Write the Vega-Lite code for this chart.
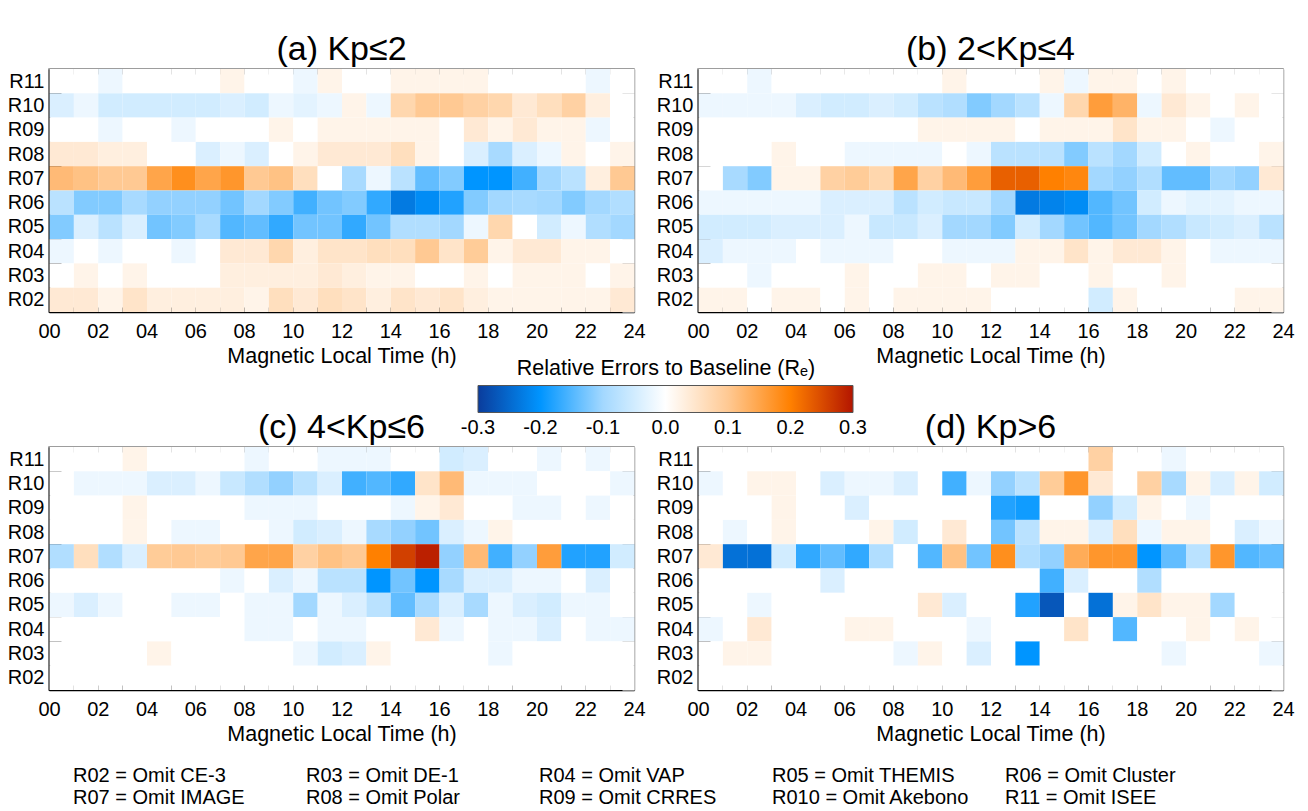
{
"$schema":"https://vega.github.io/schema/vega-lite/v6.json",
"background":"white",
"padding":{"left":6,"top":32,"right":0,"bottom":0},
"config":{"font":"Liberation Sans","view":{"stroke":"#888888","strokeWidth":1.5},"title":{"fontSize":34,"fontWeight":"normal","offset":-8,"frame":"group","anchor":"middle","color":"#000000"},"axis":{"labelFontSize":20,"titleFontSize":21.5,"titleFontWeight":"normal","labelColor":"#000000","titleColor":"#000000","grid":false,"zindex":1}},
"datasets":{
"a":[
{"r":"R11","t":0,"v":0},{"r":"R11","t":1,"v":0},{"r":"R11","t":2,"v":-0.02},{"r":"R11","t":3,"v":0},{"r":"R11","t":4,"v":0},{"r":"R11","t":5,"v":0},{"r":"R11","t":6,"v":0},{"r":"R11","t":7,"v":0.02},{"r":"R11","t":8,"v":0},{"r":"R11","t":9,"v":0},{"r":"R11","t":10,"v":-0.02},{"r":"R11","t":11,"v":0.02},{"r":"R11","t":12,"v":0},{"r":"R11","t":13,"v":0},{"r":"R11","t":14,"v":0.02},{"r":"R11","t":15,"v":0.02},{"r":"R11","t":16,"v":0.02},{"r":"R11","t":17,"v":0.02},{"r":"R11","t":18,"v":0},{"r":"R11","t":19,"v":0},{"r":"R11","t":20,"v":0},{"r":"R11","t":21,"v":0},{"r":"R11","t":22,"v":-0.02},{"r":"R11","t":23,"v":0},
{"r":"R10","t":0,"v":-0.04},{"r":"R10","t":1,"v":-0.02},{"r":"R10","t":2,"v":-0.05},{"r":"R10","t":3,"v":-0.05},{"r":"R10","t":4,"v":-0.05},{"r":"R10","t":5,"v":-0.05},{"r":"R10","t":6,"v":-0.05},{"r":"R10","t":7,"v":-0.04},{"r":"R10","t":8,"v":-0.05},{"r":"R10","t":9,"v":-0.02},{"r":"R10","t":10,"v":-0.03},{"r":"R10","t":11,"v":-0.02},{"r":"R10","t":12,"v":0.02},{"r":"R10","t":13,"v":-0.02},{"r":"R10","t":14,"v":0.075},{"r":"R10","t":15,"v":0.1},{"r":"R10","t":16,"v":0.1},{"r":"R10","t":17,"v":0.085},{"r":"R10","t":18,"v":0.075},{"r":"R10","t":19,"v":0.04},{"r":"R10","t":20,"v":0.06},{"r":"R10","t":21,"v":0.085},{"r":"R10","t":22,"v":0.03},{"r":"R10","t":23,"v":0},
{"r":"R09","t":0,"v":0},{"r":"R09","t":1,"v":0},{"r":"R09","t":2,"v":-0.02},{"r":"R09","t":3,"v":0},{"r":"R09","t":4,"v":0},{"r":"R09","t":5,"v":-0.02},{"r":"R09","t":6,"v":0},{"r":"R09","t":7,"v":0},{"r":"R09","t":8,"v":0},{"r":"R09","t":9,"v":0.02},{"r":"R09","t":10,"v":0},{"r":"R09","t":11,"v":0.02},{"r":"R09","t":12,"v":0.02},{"r":"R09","t":13,"v":0.02},{"r":"R09","t":14,"v":0.02},{"r":"R09","t":15,"v":0.02},{"r":"R09","t":16,"v":0},{"r":"R09","t":17,"v":0.04},{"r":"R09","t":18,"v":0.02},{"r":"R09","t":19,"v":0.04},{"r":"R09","t":20,"v":0.02},{"r":"R09","t":21,"v":0.02},{"r":"R09","t":22,"v":-0.02},{"r":"R09","t":23,"v":0},
{"r":"R08","t":0,"v":0.04},{"r":"R08","t":1,"v":0.04},{"r":"R08","t":2,"v":0.03},{"r":"R08","t":3,"v":0.03},{"r":"R08","t":4,"v":0},{"r":"R08","t":5,"v":0},{"r":"R08","t":6,"v":-0.04},{"r":"R08","t":7,"v":-0.02},{"r":"R08","t":8,"v":-0.04},{"r":"R08","t":9,"v":0},{"r":"R08","t":10,"v":0.02},{"r":"R08","t":11,"v":0.04},{"r":"R08","t":12,"v":0.04},{"r":"R08","t":13,"v":0.04},{"r":"R08","t":14,"v":0.06},{"r":"R08","t":15,"v":0.02},{"r":"R08","t":16,"v":0},{"r":"R08","t":17,"v":-0.04},{"r":"R08","t":18,"v":-0.095},{"r":"R08","t":19,"v":-0.04},{"r":"R08","t":20,"v":-0.02},{"r":"R08","t":21,"v":0.02},{"r":"R08","t":22,"v":0},{"r":"R08","t":23,"v":0.02},
{"r":"R07","t":0,"v":0.12},{"r":"R07","t":1,"v":0.11},{"r":"R07","t":2,"v":0.1},{"r":"R07","t":3,"v":0.1},{"r":"R07","t":4,"v":0.15},{"r":"R07","t":5,"v":0.18},{"r":"R07","t":6,"v":0.15},{"r":"R07","t":7,"v":0.17},{"r":"R07","t":8,"v":0.1},{"r":"R07","t":9,"v":0.11},{"r":"R07","t":10,"v":0.06},{"r":"R07","t":11,"v":0},{"r":"R07","t":12,"v":-0.095},{"r":"R07","t":13,"v":-0.02},{"r":"R07","t":14,"v":-0.075},{"r":"R07","t":15,"v":-0.14},{"r":"R07","t":16,"v":-0.12},{"r":"R07","t":17,"v":-0.2},{"r":"R07","t":18,"v":-0.2},{"r":"R07","t":19,"v":-0.16},{"r":"R07","t":20,"v":-0.1},{"r":"R07","t":21,"v":-0.075},{"r":"R07","t":22,"v":0.03},{"r":"R07","t":23,"v":0.1},
{"r":"R06","t":0,"v":-0.075},{"r":"R06","t":1,"v":-0.12},{"r":"R06","t":2,"v":-0.12},{"r":"R06","t":3,"v":-0.095},{"r":"R06","t":4,"v":-0.11},{"r":"R06","t":5,"v":-0.11},{"r":"R06","t":6,"v":-0.11},{"r":"R06","t":7,"v":-0.13},{"r":"R06","t":8,"v":-0.1},{"r":"R06","t":9,"v":-0.12},{"r":"R06","t":10,"v":-0.16},{"r":"R06","t":11,"v":-0.13},{"r":"R06","t":12,"v":-0.12},{"r":"R06","t":13,"v":-0.17},{"r":"R06","t":14,"v":-0.23},{"r":"R06","t":15,"v":-0.21},{"r":"R06","t":16,"v":-0.18},{"r":"R06","t":17,"v":-0.12},{"r":"R06","t":18,"v":-0.1},{"r":"R06","t":19,"v":-0.095},{"r":"R06","t":20,"v":-0.1},{"r":"R06","t":21,"v":-0.12},{"r":"R06","t":22,"v":-0.1},{"r":"R06","t":23,"v":-0.085},
{"r":"R05","t":0,"v":-0.12},{"r":"R05","t":1,"v":-0.04},{"r":"R05","t":2,"v":-0.075},{"r":"R05","t":3,"v":-0.04},{"r":"R05","t":4,"v":-0.13},{"r":"R05","t":5,"v":-0.12},{"r":"R05","t":6,"v":-0.095},{"r":"R05","t":7,"v":-0.15},{"r":"R05","t":8,"v":-0.14},{"r":"R05","t":9,"v":-0.17},{"r":"R05","t":10,"v":-0.13},{"r":"R05","t":11,"v":-0.13},{"r":"R05","t":12,"v":-0.17},{"r":"R05","t":13,"v":-0.13},{"r":"R05","t":14,"v":-0.085},{"r":"R05","t":15,"v":-0.085},{"r":"R05","t":16,"v":-0.1},{"r":"R05","t":17,"v":-0.02},{"r":"R05","t":18,"v":0.075},{"r":"R05","t":19,"v":0},{"r":"R05","t":20,"v":-0.05},{"r":"R05","t":21,"v":-0.02},{"r":"R05","t":22,"v":-0.085},{"r":"R05","t":23,"v":-0.1},
{"r":"R04","t":0,"v":-0.02},{"r":"R04","t":1,"v":0},{"r":"R04","t":2,"v":-0.02},{"r":"R04","t":3,"v":0},{"r":"R04","t":4,"v":0},{"r":"R04","t":5,"v":-0.02},{"r":"R04","t":6,"v":0},{"r":"R04","t":7,"v":0.04},{"r":"R04","t":8,"v":0.04},{"r":"R04","t":9,"v":0.075},{"r":"R04","t":10,"v":0.03},{"r":"R04","t":11,"v":0.05},{"r":"R04","t":12,"v":0.05},{"r":"R04","t":13,"v":0.06},{"r":"R04","t":14,"v":0.06},{"r":"R04","t":15,"v":0.1},{"r":"R04","t":16,"v":0.05},{"r":"R04","t":17,"v":0.095},{"r":"R04","t":18,"v":0.02},{"r":"R04","t":19,"v":0.04},{"r":"R04","t":20,"v":0.04},{"r":"R04","t":21,"v":0.02},{"r":"R04","t":22,"v":0.02},{"r":"R04","t":23,"v":0},
{"r":"R03","t":0,"v":0},{"r":"R03","t":1,"v":0.02},{"r":"R03","t":2,"v":0},{"r":"R03","t":3,"v":0.02},{"r":"R03","t":4,"v":0},{"r":"R03","t":5,"v":0},{"r":"R03","t":6,"v":0},{"r":"R03","t":7,"v":0.03},{"r":"R03","t":8,"v":0.03},{"r":"R03","t":9,"v":0.03},{"r":"R03","t":10,"v":0.03},{"r":"R03","t":11,"v":0.04},{"r":"R03","t":12,"v":0.03},{"r":"R03","t":13,"v":0.02},{"r":"R03","t":14,"v":0.02},{"r":"R03","t":15,"v":0},{"r":"R03","t":16,"v":0},{"r":"R03","t":17,"v":0.02},{"r":"R03","t":18,"v":0},{"r":"R03","t":19,"v":0.02},{"r":"R03","t":20,"v":0.02},{"r":"R03","t":21,"v":0.02},{"r":"R03","t":22,"v":0},{"r":"R03","t":23,"v":0.02},
{"r":"R02","t":0,"v":0.04},{"r":"R02","t":1,"v":0.04},{"r":"R02","t":2,"v":0.02},{"r":"R02","t":3,"v":0.05},{"r":"R02","t":4,"v":0.03},{"r":"R02","t":5,"v":0.03},{"r":"R02","t":6,"v":0.03},{"r":"R02","t":7,"v":0.03},{"r":"R02","t":8,"v":0.02},{"r":"R02","t":9,"v":0.06},{"r":"R02","t":10,"v":0.04},{"r":"R02","t":11,"v":0.06},{"r":"R02","t":12,"v":0.05},{"r":"R02","t":13,"v":0.03},{"r":"R02","t":14,"v":0.05},{"r":"R02","t":15,"v":0.04},{"r":"R02","t":16,"v":0.05},{"r":"R02","t":17,"v":0.03},{"r":"R02","t":18,"v":0.02},{"r":"R02","t":19,"v":0.02},{"r":"R02","t":20,"v":0.02},{"r":"R02","t":21,"v":0.02},{"r":"R02","t":22,"v":0.02},{"r":"R02","t":23,"v":0.04}
],
"b":[
{"r":"R11","t":0,"v":0},{"r":"R11","t":1,"v":0},{"r":"R11","t":2,"v":-0.02},{"r":"R11","t":3,"v":0},{"r":"R11","t":4,"v":0},{"r":"R11","t":5,"v":0},{"r":"R11","t":6,"v":0},{"r":"R11","t":7,"v":0},{"r":"R11","t":8,"v":0},{"r":"R11","t":9,"v":0},{"r":"R11","t":10,"v":0.02},{"r":"R11","t":11,"v":0},{"r":"R11","t":12,"v":0},{"r":"R11","t":13,"v":0},{"r":"R11","t":14,"v":0.02},{"r":"R11","t":15,"v":-0.02},{"r":"R11","t":16,"v":0.02},{"r":"R11","t":17,"v":0.02},{"r":"R11","t":18,"v":0},{"r":"R11","t":19,"v":0.02},{"r":"R11","t":20,"v":0},{"r":"R11","t":21,"v":0},{"r":"R11","t":22,"v":0},{"r":"R11","t":23,"v":0},
{"r":"R10","t":0,"v":-0.02},{"r":"R10","t":1,"v":-0.02},{"r":"R10","t":2,"v":-0.02},{"r":"R10","t":3,"v":-0.02},{"r":"R10","t":4,"v":-0.04},{"r":"R10","t":5,"v":-0.05},{"r":"R10","t":6,"v":-0.05},{"r":"R10","t":7,"v":-0.04},{"r":"R10","t":8,"v":-0.05},{"r":"R10","t":9,"v":-0.075},{"r":"R10","t":10,"v":-0.085},{"r":"R10","t":11,"v":-0.12},{"r":"R10","t":12,"v":-0.1},{"r":"R10","t":13,"v":-0.075},{"r":"R10","t":14,"v":-0.02},{"r":"R10","t":15,"v":0.075},{"r":"R10","t":16,"v":0.16},{"r":"R10","t":17,"v":0.13},{"r":"R10","t":18,"v":-0.02},{"r":"R10","t":19,"v":0.04},{"r":"R10","t":20,"v":0.02},{"r":"R10","t":21,"v":0},{"r":"R10","t":22,"v":0.02},{"r":"R10","t":23,"v":0},
{"r":"R09","t":0,"v":0},{"r":"R09","t":1,"v":0},{"r":"R09","t":2,"v":0},{"r":"R09","t":3,"v":0},{"r":"R09","t":4,"v":0},{"r":"R09","t":5,"v":0},{"r":"R09","t":6,"v":0},{"r":"R09","t":7,"v":0},{"r":"R09","t":8,"v":0},{"r":"R09","t":9,"v":0.02},{"r":"R09","t":10,"v":0.02},{"r":"R09","t":11,"v":0.02},{"r":"R09","t":12,"v":0.02},{"r":"R09","t":13,"v":0},{"r":"R09","t":14,"v":0.02},{"r":"R09","t":15,"v":0.02},{"r":"R09","t":16,"v":0.02},{"r":"R09","t":17,"v":0.05},{"r":"R09","t":18,"v":0.02},{"r":"R09","t":19,"v":0.02},{"r":"R09","t":20,"v":0},{"r":"R09","t":21,"v":-0.02},{"r":"R09","t":22,"v":0},{"r":"R09","t":23,"v":0},
{"r":"R08","t":0,"v":0},{"r":"R08","t":1,"v":0},{"r":"R08","t":2,"v":0},{"r":"R08","t":3,"v":0.02},{"r":"R08","t":4,"v":0},{"r":"R08","t":5,"v":0},{"r":"R08","t":6,"v":-0.02},{"r":"R08","t":7,"v":-0.02},{"r":"R08","t":8,"v":-0.02},{"r":"R08","t":9,"v":-0.02},{"r":"R08","t":10,"v":0},{"r":"R08","t":11,"v":-0.02},{"r":"R08","t":12,"v":-0.075},{"r":"R08","t":13,"v":-0.075},{"r":"R08","t":14,"v":-0.075},{"r":"R08","t":15,"v":-0.12},{"r":"R08","t":16,"v":-0.075},{"r":"R08","t":17,"v":-0.1},{"r":"R08","t":18,"v":-0.05},{"r":"R08","t":19,"v":0},{"r":"R08","t":20,"v":0.02},{"r":"R08","t":21,"v":0},{"r":"R08","t":22,"v":0},{"r":"R08","t":23,"v":0.02},
{"r":"R07","t":0,"v":0},{"r":"R07","t":1,"v":-0.095},{"r":"R07","t":2,"v":-0.12},{"r":"R07","t":3,"v":0.02},{"r":"R07","t":4,"v":0.02},{"r":"R07","t":5,"v":0.085},{"r":"R07","t":6,"v":0.095},{"r":"R07","t":7,"v":0.075},{"r":"R07","t":8,"v":0.15},{"r":"R07","t":9,"v":0.085},{"r":"R07","t":10,"v":0.12},{"r":"R07","t":11,"v":0.16},{"r":"R07","t":12,"v":0.23},{"r":"R07","t":13,"v":0.23},{"r":"R07","t":14,"v":0.2},{"r":"R07","t":15,"v":0.19},{"r":"R07","t":16,"v":-0.1},{"r":"R07","t":17,"v":-0.11},{"r":"R07","t":18,"v":-0.085},{"r":"R07","t":19,"v":-0.14},{"r":"R07","t":20,"v":-0.14},{"r":"R07","t":21,"v":-0.1},{"r":"R07","t":22,"v":-0.11},{"r":"R07","t":23,"v":0.04},
{"r":"R06","t":0,"v":-0.02},{"r":"R06","t":1,"v":-0.02},{"r":"R06","t":2,"v":-0.02},{"r":"R06","t":3,"v":-0.02},{"r":"R06","t":4,"v":-0.02},{"r":"R06","t":5,"v":-0.04},{"r":"R06","t":6,"v":-0.04},{"r":"R06","t":7,"v":-0.04},{"r":"R06","t":8,"v":-0.075},{"r":"R06","t":9,"v":-0.05},{"r":"R06","t":10,"v":-0.06},{"r":"R06","t":11,"v":-0.06},{"r":"R06","t":12,"v":-0.1},{"r":"R06","t":13,"v":-0.23},{"r":"R06","t":14,"v":-0.22},{"r":"R06","t":15,"v":-0.21},{"r":"R06","t":16,"v":-0.15},{"r":"R06","t":17,"v":-0.13},{"r":"R06","t":18,"v":-0.05},{"r":"R06","t":19,"v":-0.02},{"r":"R06","t":20,"v":-0.03},{"r":"R06","t":21,"v":-0.03},{"r":"R06","t":22,"v":-0.02},{"r":"R06","t":23,"v":-0.02},
{"r":"R05","t":0,"v":-0.05},{"r":"R05","t":1,"v":-0.05},{"r":"R05","t":2,"v":-0.05},{"r":"R05","t":3,"v":-0.04},{"r":"R05","t":4,"v":-0.04},{"r":"R05","t":5,"v":-0.04},{"r":"R05","t":6,"v":-0.02},{"r":"R05","t":7,"v":-0.06},{"r":"R05","t":8,"v":-0.06},{"r":"R05","t":9,"v":-0.04},{"r":"R05","t":10,"v":-0.1},{"r":"R05","t":11,"v":-0.1},{"r":"R05","t":12,"v":-0.12},{"r":"R05","t":13,"v":-0.05},{"r":"R05","t":14,"v":-0.1},{"r":"R05","t":15,"v":-0.13},{"r":"R05","t":16,"v":-0.15},{"r":"R05","t":17,"v":-0.13},{"r":"R05","t":18,"v":-0.1},{"r":"R05","t":19,"v":-0.085},{"r":"R05","t":20,"v":-0.06},{"r":"R05","t":21,"v":-0.05},{"r":"R05","t":22,"v":-0.04},{"r":"R05","t":23,"v":-0.075},
{"r":"R04","t":0,"v":-0.04},{"r":"R04","t":1,"v":-0.02},{"r":"R04","t":2,"v":-0.02},{"r":"R04","t":3,"v":-0.02},{"r":"R04","t":4,"v":0},{"r":"R04","t":5,"v":-0.02},{"r":"R04","t":6,"v":-0.02},{"r":"R04","t":7,"v":-0.02},{"r":"R04","t":8,"v":0},{"r":"R04","t":9,"v":0},{"r":"R04","t":10,"v":-0.02},{"r":"R04","t":11,"v":-0.02},{"r":"R04","t":12,"v":-0.02},{"r":"R04","t":13,"v":0.02},{"r":"R04","t":14,"v":0.02},{"r":"R04","t":15,"v":0.05},{"r":"R04","t":16,"v":0.02},{"r":"R04","t":17,"v":0.04},{"r":"R04","t":18,"v":0.04},{"r":"R04","t":19,"v":0.02},{"r":"R04","t":20,"v":0},{"r":"R04","t":21,"v":-0.02},{"r":"R04","t":22,"v":-0.02},{"r":"R04","t":23,"v":-0.02},
{"r":"R03","t":0,"v":0},{"r":"R03","t":1,"v":0},{"r":"R03","t":2,"v":-0.02},{"r":"R03","t":3,"v":0},{"r":"R03","t":4,"v":0},{"r":"R03","t":5,"v":0},{"r":"R03","t":6,"v":0.02},{"r":"R03","t":7,"v":0},{"r":"R03","t":8,"v":0},{"r":"R03","t":9,"v":0.02},{"r":"R03","t":10,"v":0.02},{"r":"R03","t":11,"v":0},{"r":"R03","t":12,"v":0.02},{"r":"R03","t":13,"v":0.02},{"r":"R03","t":14,"v":0},{"r":"R03","t":15,"v":0},{"r":"R03","t":16,"v":0.02},{"r":"R03","t":17,"v":0},{"r":"R03","t":18,"v":0},{"r":"R03","t":19,"v":0.02},{"r":"R03","t":20,"v":0},{"r":"R03","t":21,"v":0},{"r":"R03","t":22,"v":0},{"r":"R03","t":23,"v":0},
{"r":"R02","t":0,"v":0.02},{"r":"R02","t":1,"v":0.02},{"r":"R02","t":2,"v":0},{"r":"R02","t":3,"v":0.02},{"r":"R02","t":4,"v":0.02},{"r":"R02","t":5,"v":0},{"r":"R02","t":6,"v":0.02},{"r":"R02","t":7,"v":0},{"r":"R02","t":8,"v":0.02},{"r":"R02","t":9,"v":0.02},{"r":"R02","t":10,"v":0.02},{"r":"R02","t":11,"v":0.02},{"r":"R02","t":12,"v":0},{"r":"R02","t":13,"v":0},{"r":"R02","t":14,"v":0},{"r":"R02","t":15,"v":0},{"r":"R02","t":16,"v":-0.05},{"r":"R02","t":17,"v":0.02},{"r":"R02","t":18,"v":0},{"r":"R02","t":19,"v":0},{"r":"R02","t":20,"v":0},{"r":"R02","t":21,"v":0},{"r":"R02","t":22,"v":0.02},{"r":"R02","t":23,"v":0.02}
],
"c":[
{"r":"R11","t":0,"v":0},{"r":"R11","t":1,"v":0},{"r":"R11","t":2,"v":0},{"r":"R11","t":3,"v":0.02},{"r":"R11","t":4,"v":0},{"r":"R11","t":5,"v":0},{"r":"R11","t":6,"v":0},{"r":"R11","t":7,"v":0},{"r":"R11","t":8,"v":-0.02},{"r":"R11","t":9,"v":0},{"r":"R11","t":10,"v":0},{"r":"R11","t":11,"v":-0.02},{"r":"R11","t":12,"v":-0.02},{"r":"R11","t":13,"v":-0.02},{"r":"R11","t":14,"v":0},{"r":"R11","t":15,"v":0},{"r":"R11","t":16,"v":-0.05},{"r":"R11","t":17,"v":-0.04},{"r":"R11","t":18,"v":0},{"r":"R11","t":19,"v":0},{"r":"R11","t":20,"v":-0.02},{"r":"R11","t":21,"v":0},{"r":"R11","t":22,"v":-0.02},{"r":"R11","t":23,"v":0},
{"r":"R10","t":0,"v":0},{"r":"R10","t":1,"v":-0.02},{"r":"R10","t":2,"v":-0.02},{"r":"R10","t":3,"v":-0.02},{"r":"R10","t":4,"v":-0.04},{"r":"R10","t":5,"v":-0.04},{"r":"R10","t":6,"v":-0.02},{"r":"R10","t":7,"v":-0.06},{"r":"R10","t":8,"v":-0.085},{"r":"R10","t":9,"v":-0.11},{"r":"R10","t":10,"v":-0.075},{"r":"R10","t":11,"v":-0.04},{"r":"R10","t":12,"v":-0.16},{"r":"R10","t":13,"v":-0.15},{"r":"R10","t":14,"v":-0.17},{"r":"R10","t":15,"v":0.05},{"r":"R10","t":16,"v":0.12},{"r":"R10","t":17,"v":-0.02},{"r":"R10","t":18,"v":-0.02},{"r":"R10","t":19,"v":-0.02},{"r":"R10","t":20,"v":0},{"r":"R10","t":21,"v":0},{"r":"R10","t":22,"v":0},{"r":"R10","t":23,"v":-0.02},
{"r":"R09","t":0,"v":0},{"r":"R09","t":1,"v":0},{"r":"R09","t":2,"v":0},{"r":"R09","t":3,"v":0.02},{"r":"R09","t":4,"v":0},{"r":"R09","t":5,"v":0},{"r":"R09","t":6,"v":0},{"r":"R09","t":7,"v":0},{"r":"R09","t":8,"v":-0.02},{"r":"R09","t":9,"v":-0.02},{"r":"R09","t":10,"v":-0.02},{"r":"R09","t":11,"v":0},{"r":"R09","t":12,"v":0},{"r":"R09","t":13,"v":0},{"r":"R09","t":14,"v":-0.02},{"r":"R09","t":15,"v":0.02},{"r":"R09","t":16,"v":0.04},{"r":"R09","t":17,"v":0},{"r":"R09","t":18,"v":0},{"r":"R09","t":19,"v":-0.02},{"r":"R09","t":20,"v":-0.02},{"r":"R09","t":21,"v":0},{"r":"R09","t":22,"v":-0.02},{"r":"R09","t":23,"v":0},
{"r":"R08","t":0,"v":0},{"r":"R08","t":1,"v":0},{"r":"R08","t":2,"v":0},{"r":"R08","t":3,"v":0.02},{"r":"R08","t":4,"v":0},{"r":"R08","t":5,"v":-0.02},{"r":"R08","t":6,"v":-0.02},{"r":"R08","t":7,"v":0},{"r":"R08","t":8,"v":0},{"r":"R08","t":9,"v":-0.02},{"r":"R08","t":10,"v":-0.05},{"r":"R08","t":11,"v":-0.04},{"r":"R08","t":12,"v":-0.02},{"r":"R08","t":13,"v":-0.095},{"r":"R08","t":14,"v":-0.11},{"r":"R08","t":15,"v":-0.13},{"r":"R08","t":16,"v":-0.04},{"r":"R08","t":17,"v":-0.02},{"r":"R08","t":18,"v":0.02},{"r":"R08","t":19,"v":0},{"r":"R08","t":20,"v":0},{"r":"R08","t":21,"v":0},{"r":"R08","t":22,"v":0},{"r":"R08","t":23,"v":0},
{"r":"R07","t":0,"v":-0.085},{"r":"R07","t":1,"v":0.06},{"r":"R07","t":2,"v":-0.085},{"r":"R07","t":3,"v":-0.04},{"r":"R07","t":4,"v":0.095},{"r":"R07","t":5,"v":0.1},{"r":"R07","t":6,"v":0.095},{"r":"R07","t":7,"v":0.1},{"r":"R07","t":8,"v":0.15},{"r":"R07","t":9,"v":0.15},{"r":"R07","t":10,"v":0.085},{"r":"R07","t":11,"v":0.11},{"r":"R07","t":12,"v":0.1},{"r":"R07","t":13,"v":0.2},{"r":"R07","t":14,"v":0.26},{"r":"R07","t":15,"v":0.29},{"r":"R07","t":16,"v":-0.11},{"r":"R07","t":17,"v":0.12},{"r":"R07","t":18,"v":-0.16},{"r":"R07","t":19,"v":-0.11},{"r":"R07","t":20,"v":0.16},{"r":"R07","t":21,"v":-0.18},{"r":"R07","t":22,"v":-0.18},{"r":"R07","t":23,"v":-0.05},
{"r":"R06","t":0,"v":0},{"r":"R06","t":1,"v":0},{"r":"R06","t":2,"v":0},{"r":"R06","t":3,"v":0},{"r":"R06","t":4,"v":0},{"r":"R06","t":5,"v":0},{"r":"R06","t":6,"v":0},{"r":"R06","t":7,"v":-0.02},{"r":"R06","t":8,"v":0},{"r":"R06","t":9,"v":-0.04},{"r":"R06","t":10,"v":-0.02},{"r":"R06","t":11,"v":-0.075},{"r":"R06","t":12,"v":-0.075},{"r":"R06","t":13,"v":-0.2},{"r":"R06","t":14,"v":-0.13},{"r":"R06","t":15,"v":-0.2},{"r":"R06","t":16,"v":-0.095},{"r":"R06","t":17,"v":-0.04},{"r":"R06","t":18,"v":-0.04},{"r":"R06","t":19,"v":-0.02},{"r":"R06","t":20,"v":-0.02},{"r":"R06","t":21,"v":0},{"r":"R06","t":22,"v":-0.04},{"r":"R06","t":23,"v":0},
{"r":"R05","t":0,"v":-0.02},{"r":"R05","t":1,"v":-0.04},{"r":"R05","t":2,"v":-0.02},{"r":"R05","t":3,"v":0},{"r":"R05","t":4,"v":0},{"r":"R05","t":5,"v":-0.02},{"r":"R05","t":6,"v":-0.02},{"r":"R05","t":7,"v":0},{"r":"R05","t":8,"v":-0.02},{"r":"R05","t":9,"v":-0.02},{"r":"R05","t":10,"v":-0.1},{"r":"R05","t":11,"v":-0.02},{"r":"R05","t":12,"v":-0.04},{"r":"R05","t":13,"v":-0.075},{"r":"R05","t":14,"v":-0.14},{"r":"R05","t":15,"v":-0.095},{"r":"R05","t":16,"v":-0.04},{"r":"R05","t":17,"v":-0.095},{"r":"R05","t":18,"v":-0.02},{"r":"R05","t":19,"v":-0.04},{"r":"R05","t":20,"v":-0.05},{"r":"R05","t":21,"v":-0.02},{"r":"R05","t":22,"v":-0.02},{"r":"R05","t":23,"v":0},
{"r":"R04","t":0,"v":0},{"r":"R04","t":1,"v":0},{"r":"R04","t":2,"v":0},{"r":"R04","t":3,"v":0},{"r":"R04","t":4,"v":0},{"r":"R04","t":5,"v":0},{"r":"R04","t":6,"v":0},{"r":"R04","t":7,"v":0},{"r":"R04","t":8,"v":-0.02},{"r":"R04","t":9,"v":-0.02},{"r":"R04","t":10,"v":0},{"r":"R04","t":11,"v":-0.02},{"r":"R04","t":12,"v":-0.02},{"r":"R04","t":13,"v":0},{"r":"R04","t":14,"v":0},{"r":"R04","t":15,"v":0.04},{"r":"R04","t":16,"v":-0.02},{"r":"R04","t":17,"v":0},{"r":"R04","t":18,"v":-0.02},{"r":"R04","t":19,"v":-0.02},{"r":"R04","t":20,"v":-0.04},{"r":"R04","t":21,"v":0},{"r":"R04","t":22,"v":-0.02},{"r":"R04","t":23,"v":-0.02},
{"r":"R03","t":0,"v":0},{"r":"R03","t":1,"v":0},{"r":"R03","t":2,"v":0},{"r":"R03","t":3,"v":0},{"r":"R03","t":4,"v":0.02},{"r":"R03","t":5,"v":0},{"r":"R03","t":6,"v":0},{"r":"R03","t":7,"v":0},{"r":"R03","t":8,"v":0},{"r":"R03","t":9,"v":0},{"r":"R03","t":10,"v":-0.02},{"r":"R03","t":11,"v":-0.05},{"r":"R03","t":12,"v":-0.04},{"r":"R03","t":13,"v":0.02},{"r":"R03","t":14,"v":0},{"r":"R03","t":15,"v":0},{"r":"R03","t":16,"v":0},{"r":"R03","t":17,"v":0},{"r":"R03","t":18,"v":-0.02},{"r":"R03","t":19,"v":0},{"r":"R03","t":20,"v":0},{"r":"R03","t":21,"v":0},{"r":"R03","t":22,"v":0},{"r":"R03","t":23,"v":0},
{"r":"R02","t":0,"v":0},{"r":"R02","t":1,"v":0},{"r":"R02","t":2,"v":0},{"r":"R02","t":3,"v":0},{"r":"R02","t":4,"v":0},{"r":"R02","t":5,"v":0},{"r":"R02","t":6,"v":0},{"r":"R02","t":7,"v":0},{"r":"R02","t":8,"v":0},{"r":"R02","t":9,"v":0},{"r":"R02","t":10,"v":0},{"r":"R02","t":11,"v":0},{"r":"R02","t":12,"v":0},{"r":"R02","t":13,"v":0},{"r":"R02","t":14,"v":0},{"r":"R02","t":15,"v":0},{"r":"R02","t":16,"v":0},{"r":"R02","t":17,"v":0},{"r":"R02","t":18,"v":0},{"r":"R02","t":19,"v":0},{"r":"R02","t":20,"v":0},{"r":"R02","t":21,"v":0},{"r":"R02","t":22,"v":0},{"r":"R02","t":23,"v":0}
],
"d":[
{"r":"R11","t":0,"v":0},{"r":"R11","t":1,"v":0},{"r":"R11","t":2,"v":0},{"r":"R11","t":3,"v":0},{"r":"R11","t":4,"v":0},{"r":"R11","t":5,"v":0},{"r":"R11","t":6,"v":0},{"r":"R11","t":7,"v":0},{"r":"R11","t":8,"v":0},{"r":"R11","t":9,"v":0},{"r":"R11","t":10,"v":0},{"r":"R11","t":11,"v":0},{"r":"R11","t":12,"v":0},{"r":"R11","t":13,"v":0},{"r":"R11","t":14,"v":0},{"r":"R11","t":15,"v":0},{"r":"R11","t":16,"v":0.085},{"r":"R11","t":17,"v":0},{"r":"R11","t":18,"v":0},{"r":"R11","t":19,"v":-0.02},{"r":"R11","t":20,"v":0},{"r":"R11","t":21,"v":0},{"r":"R11","t":22,"v":0},{"r":"R11","t":23,"v":0},
{"r":"R10","t":0,"v":-0.02},{"r":"R10","t":1,"v":0},{"r":"R10","t":2,"v":0.02},{"r":"R10","t":3,"v":0.02},{"r":"R10","t":4,"v":0},{"r":"R10","t":5,"v":-0.04},{"r":"R10","t":6,"v":-0.02},{"r":"R10","t":7,"v":-0.02},{"r":"R10","t":8,"v":-0.04},{"r":"R10","t":9,"v":0},{"r":"R10","t":10,"v":-0.16},{"r":"R10","t":11,"v":-0.02},{"r":"R10","t":12,"v":-0.11},{"r":"R10","t":13,"v":-0.075},{"r":"R10","t":14,"v":0.095},{"r":"R10","t":15,"v":0.17},{"r":"R10","t":16,"v":0.04},{"r":"R10","t":17,"v":0},{"r":"R10","t":18,"v":0.085},{"r":"R10","t":19,"v":-0.095},{"r":"R10","t":20,"v":0.02},{"r":"R10","t":21,"v":-0.04},{"r":"R10","t":22,"v":0.02},{"r":"R10","t":23,"v":-0.05},
{"r":"R09","t":0,"v":0},{"r":"R09","t":1,"v":0},{"r":"R09","t":2,"v":0},{"r":"R09","t":3,"v":0.02},{"r":"R09","t":4,"v":0},{"r":"R09","t":5,"v":0},{"r":"R09","t":6,"v":-0.04},{"r":"R09","t":7,"v":0},{"r":"R09","t":8,"v":0},{"r":"R09","t":9,"v":0},{"r":"R09","t":10,"v":0},{"r":"R09","t":11,"v":0},{"r":"R09","t":12,"v":-0.18},{"r":"R09","t":13,"v":-0.19},{"r":"R09","t":14,"v":0},{"r":"R09","t":15,"v":0},{"r":"R09","t":16,"v":-0.11},{"r":"R09","t":17,"v":-0.05},{"r":"R09","t":18,"v":0.02},{"r":"R09","t":19,"v":0},{"r":"R09","t":20,"v":-0.02},{"r":"R09","t":21,"v":0},{"r":"R09","t":22,"v":0},{"r":"R09","t":23,"v":0},
{"r":"R08","t":0,"v":0},{"r":"R08","t":1,"v":-0.02},{"r":"R08","t":2,"v":0},{"r":"R08","t":3,"v":0.02},{"r":"R08","t":4,"v":0},{"r":"R08","t":5,"v":0},{"r":"R08","t":6,"v":0},{"r":"R08","t":7,"v":0.02},{"r":"R08","t":8,"v":-0.05},{"r":"R08","t":9,"v":0},{"r":"R08","t":10,"v":0.04},{"r":"R08","t":11,"v":0},{"r":"R08","t":12,"v":-0.13},{"r":"R08","t":13,"v":-0.075},{"r":"R08","t":14,"v":0.02},{"r":"R08","t":15,"v":0.02},{"r":"R08","t":16,"v":-0.04},{"r":"R08","t":17,"v":0.06},{"r":"R08","t":18,"v":-0.02},{"r":"R08","t":19,"v":0.02},{"r":"R08","t":20,"v":0.02},{"r":"R08","t":21,"v":0},{"r":"R08","t":22,"v":-0.04},{"r":"R08","t":23,"v":-0.02},
{"r":"R07","t":0,"v":0.04},{"r":"R07","t":1,"v":-0.24},{"r":"R07","t":2,"v":-0.24},{"r":"R07","t":3,"v":-0.05},{"r":"R07","t":4,"v":-0.17},{"r":"R07","t":5,"v":-0.14},{"r":"R07","t":6,"v":-0.17},{"r":"R07","t":7,"v":-0.085},{"r":"R07","t":8,"v":0},{"r":"R07","t":9,"v":-0.15},{"r":"R07","t":10,"v":0.11},{"r":"R07","t":11,"v":-0.13},{"r":"R07","t":12,"v":0.18},{"r":"R07","t":13,"v":-0.085},{"r":"R07","t":14,"v":-0.11},{"r":"R07","t":15,"v":0.14},{"r":"R07","t":16,"v":0.17},{"r":"R07","t":17,"v":0.17},{"r":"R07","t":18,"v":-0.2},{"r":"R07","t":19,"v":-0.14},{"r":"R07","t":20,"v":-0.075},{"r":"R07","t":21,"v":0.17},{"r":"R07","t":22,"v":-0.15},{"r":"R07","t":23,"v":-0.14},
{"r":"R06","t":0,"v":0},{"r":"R06","t":1,"v":0},{"r":"R06","t":2,"v":0},{"r":"R06","t":3,"v":0},{"r":"R06","t":4,"v":0},{"r":"R06","t":5,"v":-0.04},{"r":"R06","t":6,"v":0},{"r":"R06","t":7,"v":0},{"r":"R06","t":8,"v":0},{"r":"R06","t":9,"v":0},{"r":"R06","t":10,"v":0},{"r":"R06","t":11,"v":0},{"r":"R06","t":12,"v":0},{"r":"R06","t":13,"v":0},{"r":"R06","t":14,"v":-0.16},{"r":"R06","t":15,"v":-0.04},{"r":"R06","t":16,"v":0},{"r":"R06","t":17,"v":0},{"r":"R06","t":18,"v":-0.085},{"r":"R06","t":19,"v":0},{"r":"R06","t":20,"v":0},{"r":"R06","t":21,"v":0},{"r":"R06","t":22,"v":0},{"r":"R06","t":23,"v":0},
{"r":"R05","t":0,"v":0},{"r":"R05","t":1,"v":0},{"r":"R05","t":2,"v":-0.02},{"r":"R05","t":3,"v":0},{"r":"R05","t":4,"v":0},{"r":"R05","t":5,"v":0},{"r":"R05","t":6,"v":0},{"r":"R05","t":7,"v":0},{"r":"R05","t":8,"v":0},{"r":"R05","t":9,"v":0.04},{"r":"R05","t":10,"v":-0.04},{"r":"R05","t":11,"v":0},{"r":"R05","t":12,"v":0},{"r":"R05","t":13,"v":-0.18},{"r":"R05","t":14,"v":-0.27},{"r":"R05","t":15,"v":0},{"r":"R05","t":16,"v":-0.24},{"r":"R05","t":17,"v":0.02},{"r":"R05","t":18,"v":0.05},{"r":"R05","t":19,"v":0.02},{"r":"R05","t":20,"v":0.02},{"r":"R05","t":21,"v":-0.1},{"r":"R05","t":22,"v":0},{"r":"R05","t":23,"v":0},
{"r":"R04","t":0,"v":-0.02},{"r":"R04","t":1,"v":0},{"r":"R04","t":2,"v":0.04},{"r":"R04","t":3,"v":0},{"r":"R04","t":4,"v":0},{"r":"R04","t":5,"v":0},{"r":"R04","t":6,"v":0.02},{"r":"R04","t":7,"v":0.02},{"r":"R04","t":8,"v":0},{"r":"R04","t":9,"v":0},{"r":"R04","t":10,"v":0},{"r":"R04","t":11,"v":-0.02},{"r":"R04","t":12,"v":0},{"r":"R04","t":13,"v":0},{"r":"R04","t":14,"v":0},{"r":"R04","t":15,"v":0.05},{"r":"R04","t":16,"v":0},{"r":"R04","t":17,"v":-0.15},{"r":"R04","t":18,"v":0},{"r":"R04","t":19,"v":0},{"r":"R04","t":20,"v":0.02},{"r":"R04","t":21,"v":0},{"r":"R04","t":22,"v":0.02},{"r":"R04","t":23,"v":0},
{"r":"R03","t":0,"v":0},{"r":"R03","t":1,"v":0.02},{"r":"R03","t":2,"v":0.02},{"r":"R03","t":3,"v":0},{"r":"R03","t":4,"v":0},{"r":"R03","t":5,"v":0},{"r":"R03","t":6,"v":0},{"r":"R03","t":7,"v":0},{"r":"R03","t":8,"v":-0.02},{"r":"R03","t":9,"v":0.02},{"r":"R03","t":10,"v":0},{"r":"R03","t":11,"v":-0.04},{"r":"R03","t":12,"v":0},{"r":"R03","t":13,"v":-0.2},{"r":"R03","t":14,"v":0},{"r":"R03","t":15,"v":0},{"r":"R03","t":16,"v":0},{"r":"R03","t":17,"v":0},{"r":"R03","t":18,"v":0},{"r":"R03","t":19,"v":-0.02},{"r":"R03","t":20,"v":0},{"r":"R03","t":21,"v":0},{"r":"R03","t":22,"v":0},{"r":"R03","t":23,"v":-0.02},
{"r":"R02","t":0,"v":0},{"r":"R02","t":1,"v":0},{"r":"R02","t":2,"v":0},{"r":"R02","t":3,"v":0},{"r":"R02","t":4,"v":0},{"r":"R02","t":5,"v":0},{"r":"R02","t":6,"v":0},{"r":"R02","t":7,"v":0},{"r":"R02","t":8,"v":0},{"r":"R02","t":9,"v":0},{"r":"R02","t":10,"v":0},{"r":"R02","t":11,"v":0},{"r":"R02","t":12,"v":0},{"r":"R02","t":13,"v":0},{"r":"R02","t":14,"v":0},{"r":"R02","t":15,"v":0},{"r":"R02","t":16,"v":0},{"r":"R02","t":17,"v":0},{"r":"R02","t":18,"v":0},{"r":"R02","t":19,"v":0},{"r":"R02","t":20,"v":0},{"r":"R02","t":21,"v":0},{"r":"R02","t":22,"v":0},{"r":"R02","t":23,"v":0}
],
"leg":[{"col":0,"row":0,"label":"R02 = Omit CE-3"},{"col":1,"row":0,"label":"R03 = Omit DE-1"},{"col":2,"row":0,"label":"R04 = Omit VAP"},{"col":3,"row":0,"label":"R05 = Omit THEMIS"},{"col":4,"row":0,"label":"R06 = Omit Cluster"},{"col":0,"row":1,"label":"R07 = Omit IMAGE"},{"col":1,"row":1,"label":"R08 = Omit Polar"},{"col":2,"row":1,"label":"R09 = Omit CRRES"},{"col":3,"row":1,"label":"R010 = Omit Akebono"},{"col":4,"row":1,"label":"R11 = Omit ISEE"}]
},
"vconcat":[
{"hconcat":[
{"title":"(a) Kp≤2","width":585,"height":243,"layer":[
{"data":{"name":"a"},"mark":{"type":"rect"},"encoding":{
"x":{"field":"t","type":"quantitative","bin":{"binned":true,"step":1},"scale":{"domain":[0,24],"nice":false,"zero":false},"axis":{"orient":"bottom","values":[0,1,2,3,4,5,6,7,8,9,10,11,12,13,14,15,16,17,18,19,20,21,22,23,24],"labelExpr":"datum.value % 2 === 0 ? (datum.value < 10 ? '0' + datum.value : '' + datum.value) : ''","labelFlush":false,"labelOverlap":false,"tickSize":-5,"tickColor":"#000000","domainColor":"#000000","domainWidth":1.5,"labelPadding":14,"title":"Magnetic Local Time (h)","titlePadding":4}},
"y":{"field":"r","type":"nominal","scale":{"domain":["R11","R10","R09","R08","R07","R06","R05","R04","R03","R02"],"paddingInner":0,"paddingOuter":0},"axis":{"orient":"left","tickBand":"extent","tickSize":-12,"tickColor":"#000000","domainColor":"#000000","domainWidth":1.5,"labelPadding":17,"title":null}},
"color":{"field":"v","type":"quantitative","title":"Relative Errors to Baseline (Rₑ)","scale":{"domain":[-0.3,-0.2,-0.1,0,0.1,0.2,0.3],"range":["#0a3c9c","#0095ff","#a3d8ff","#ffffff","#ffc993","#ff8000","#b31500"],"interpolate":"rgb"},"legend":{"type":"gradient","orient":"none","legendX":429,"legendY":289,"padding":0,"direction":"horizontal","gradientLength":375,"gradientThickness":27,"gradientStrokeColor":"#555555","gradientStrokeWidth":1,"titleFontSize":21.5,"titleFontWeight":"normal","titleColor":"#000000","titleAnchor":"middle","titleLimit":800,"titlePadding":6,"labelFontSize":20,"labelColor":"#000000","labelOffset":5,"labelOverlap":false,"labelFlush":false,"labelAlign":"center","format":".1f","labelExpr":"replace(datum.label, '−', '-')","values":[-0.3,-0.2,-0.1,0,0.1,0.2,0.3],"encode":{"labels":{"update":{"align":{"value":"center"}}}}}}}},
{"data":{"values":[{}]},"mark":{"type":"point","opacity":0},"encoding":{
"x":{"datum":0,"type":"quantitative","axis":{"orient":"top","values":[0,1,2,3,4,5,6,7,8,9,10,11,12,13,14,15,16,17,18,19,20,21,22,23,24],"labels":false,"tickSize":-5,"tickColor":"#888888","domainColor":"#888888","domainWidth":1.5,"title":null}},
"y":{"datum":"R11","type":"nominal","axis":{"orient":"right","tickBand":"extent","labels":false,"tickSize":-12,"tickColor":"#888888","domainColor":"#888888","domainWidth":1.5,"title":null}}}}
],"resolve":{"axis":{"x":"independent","y":"independent"}}},
{"title":"(b) 2<Kp≤4","width":585,"height":243,"layer":[
{"data":{"name":"b"},"mark":{"type":"rect"},"encoding":{
"x":{"field":"t","type":"quantitative","bin":{"binned":true,"step":1},"scale":{"domain":[0,24],"nice":false,"zero":false},"axis":{"orient":"bottom","values":[0,1,2,3,4,5,6,7,8,9,10,11,12,13,14,15,16,17,18,19,20,21,22,23,24],"labelExpr":"datum.value % 2 === 0 ? (datum.value < 10 ? '0' + datum.value : '' + datum.value) : ''","labelFlush":false,"labelOverlap":false,"tickSize":-5,"tickColor":"#000000","domainColor":"#000000","domainWidth":1.5,"labelPadding":14,"title":"Magnetic Local Time (h)","titlePadding":4}},
"y":{"field":"r","type":"nominal","scale":{"domain":["R11","R10","R09","R08","R07","R06","R05","R04","R03","R02"],"paddingInner":0,"paddingOuter":0},"axis":{"orient":"left","tickBand":"extent","tickSize":-12,"tickColor":"#000000","domainColor":"#000000","domainWidth":1.5,"labelPadding":17,"title":null}},
"color":{"field":"v","type":"quantitative","title":"Relative Errors to Baseline (Rₑ)","scale":{"domain":[-0.3,-0.2,-0.1,0,0.1,0.2,0.3],"range":["#0a3c9c","#0095ff","#a3d8ff","#ffffff","#ffc993","#ff8000","#b31500"],"interpolate":"rgb"},"legend":{"type":"gradient","orient":"none","legendX":429,"legendY":289,"padding":0,"direction":"horizontal","gradientLength":375,"gradientThickness":27,"gradientStrokeColor":"#555555","gradientStrokeWidth":1,"titleFontSize":21.5,"titleFontWeight":"normal","titleColor":"#000000","titleAnchor":"middle","titleLimit":800,"titlePadding":6,"labelFontSize":20,"labelColor":"#000000","labelOffset":5,"labelOverlap":false,"labelFlush":false,"labelAlign":"center","format":".1f","labelExpr":"replace(datum.label, '−', '-')","values":[-0.3,-0.2,-0.1,0,0.1,0.2,0.3],"encode":{"labels":{"update":{"align":{"value":"center"}}}}}}}},
{"data":{"values":[{}]},"mark":{"type":"point","opacity":0},"encoding":{
"x":{"datum":0,"type":"quantitative","axis":{"orient":"top","values":[0,1,2,3,4,5,6,7,8,9,10,11,12,13,14,15,16,17,18,19,20,21,22,23,24],"labels":false,"tickSize":-5,"tickColor":"#888888","domainColor":"#888888","domainWidth":1.5,"title":null}},
"y":{"datum":"R11","type":"nominal","axis":{"orient":"right","tickBand":"extent","labels":false,"tickSize":-12,"tickColor":"#888888","domainColor":"#888888","domainWidth":1.5,"title":null}}}}
],"resolve":{"axis":{"x":"independent","y":"independent"}}}
],"spacing":64,"bounds":"flush"},
{"vconcat":[
{"hconcat":[
{"title":"(c) 4<Kp≤6","width":585,"height":243,"layer":[
{"data":{"name":"c"},"mark":{"type":"rect"},"encoding":{
"x":{"field":"t","type":"quantitative","bin":{"binned":true,"step":1},"scale":{"domain":[0,24],"nice":false,"zero":false},"axis":{"orient":"bottom","values":[0,1,2,3,4,5,6,7,8,9,10,11,12,13,14,15,16,17,18,19,20,21,22,23,24],"labelExpr":"datum.value % 2 === 0 ? (datum.value < 10 ? '0' + datum.value : '' + datum.value) : ''","labelFlush":false,"labelOverlap":false,"tickSize":-5,"tickColor":"#000000","domainColor":"#000000","domainWidth":1.5,"labelPadding":14,"title":"Magnetic Local Time (h)","titlePadding":4}},
"y":{"field":"r","type":"nominal","scale":{"domain":["R11","R10","R09","R08","R07","R06","R05","R04","R03","R02"],"paddingInner":0,"paddingOuter":0},"axis":{"orient":"left","tickBand":"extent","tickSize":-12,"tickColor":"#000000","domainColor":"#000000","domainWidth":1.5,"labelPadding":17,"title":null}},
"color":{"field":"v","type":"quantitative","title":"Relative Errors to Baseline (Rₑ)","scale":{"domain":[-0.3,-0.2,-0.1,0,0.1,0.2,0.3],"range":["#0a3c9c","#0095ff","#a3d8ff","#ffffff","#ffc993","#ff8000","#b31500"],"interpolate":"rgb"},"legend":{"type":"gradient","orient":"none","legendX":429,"legendY":289,"padding":0,"direction":"horizontal","gradientLength":375,"gradientThickness":27,"gradientStrokeColor":"#555555","gradientStrokeWidth":1,"titleFontSize":21.5,"titleFontWeight":"normal","titleColor":"#000000","titleAnchor":"middle","titleLimit":800,"titlePadding":6,"labelFontSize":20,"labelColor":"#000000","labelOffset":5,"labelOverlap":false,"labelFlush":false,"labelAlign":"center","format":".1f","labelExpr":"replace(datum.label, '−', '-')","values":[-0.3,-0.2,-0.1,0,0.1,0.2,0.3],"encode":{"labels":{"update":{"align":{"value":"center"}}}}}}}},
{"data":{"values":[{}]},"mark":{"type":"point","opacity":0},"encoding":{
"x":{"datum":0,"type":"quantitative","axis":{"orient":"top","values":[0,1,2,3,4,5,6,7,8,9,10,11,12,13,14,15,16,17,18,19,20,21,22,23,24],"labels":false,"tickSize":-5,"tickColor":"#888888","domainColor":"#888888","domainWidth":1.5,"title":null}},
"y":{"datum":"R11","type":"nominal","axis":{"orient":"right","tickBand":"extent","labels":false,"tickSize":-12,"tickColor":"#888888","domainColor":"#888888","domainWidth":1.5,"title":null}}}}
],"resolve":{"axis":{"x":"independent","y":"independent"}}},
{"title":"(d) Kp>6","width":585,"height":243,"layer":[
{"data":{"name":"d"},"mark":{"type":"rect"},"encoding":{
"x":{"field":"t","type":"quantitative","bin":{"binned":true,"step":1},"scale":{"domain":[0,24],"nice":false,"zero":false},"axis":{"orient":"bottom","values":[0,1,2,3,4,5,6,7,8,9,10,11,12,13,14,15,16,17,18,19,20,21,22,23,24],"labelExpr":"datum.value % 2 === 0 ? (datum.value < 10 ? '0' + datum.value : '' + datum.value) : ''","labelFlush":false,"labelOverlap":false,"tickSize":-5,"tickColor":"#000000","domainColor":"#000000","domainWidth":1.5,"labelPadding":14,"title":"Magnetic Local Time (h)","titlePadding":4}},
"y":{"field":"r","type":"nominal","scale":{"domain":["R11","R10","R09","R08","R07","R06","R05","R04","R03","R02"],"paddingInner":0,"paddingOuter":0},"axis":{"orient":"left","tickBand":"extent","tickSize":-12,"tickColor":"#000000","domainColor":"#000000","domainWidth":1.5,"labelPadding":17,"title":null}},
"color":{"field":"v","type":"quantitative","title":"Relative Errors to Baseline (Rₑ)","scale":{"domain":[-0.3,-0.2,-0.1,0,0.1,0.2,0.3],"range":["#0a3c9c","#0095ff","#a3d8ff","#ffffff","#ffc993","#ff8000","#b31500"],"interpolate":"rgb"},"legend":{"type":"gradient","orient":"none","legendX":429,"legendY":289,"padding":0,"direction":"horizontal","gradientLength":375,"gradientThickness":27,"gradientStrokeColor":"#555555","gradientStrokeWidth":1,"titleFontSize":21.5,"titleFontWeight":"normal","titleColor":"#000000","titleAnchor":"middle","titleLimit":800,"titlePadding":6,"labelFontSize":20,"labelColor":"#000000","labelOffset":5,"labelOverlap":false,"labelFlush":false,"labelAlign":"center","format":".1f","labelExpr":"replace(datum.label, '−', '-')","values":[-0.3,-0.2,-0.1,0,0.1,0.2,0.3],"encode":{"labels":{"update":{"align":{"value":"center"}}}}}}}},
{"data":{"values":[{}]},"mark":{"type":"point","opacity":0},"encoding":{
"x":{"datum":0,"type":"quantitative","axis":{"orient":"top","values":[0,1,2,3,4,5,6,7,8,9,10,11,12,13,14,15,16,17,18,19,20,21,22,23,24],"labels":false,"tickSize":-5,"tickColor":"#888888","domainColor":"#888888","domainWidth":1.5,"title":null}},
"y":{"datum":"R11","type":"nominal","axis":{"orient":"right","tickBand":"extent","labels":false,"tickSize":-12,"tickColor":"#888888","domainColor":"#888888","domainWidth":1.5,"title":null}}}}
],"resolve":{"axis":{"x":"independent","y":"independent"}}}
],"spacing":64,"bounds":"flush"},
{"data":{"name":"leg"},"width":1234,"height":44,"view":{"stroke":null},"mark":{"type":"text","align":"left","baseline":"middle","fontSize":20},"encoding":{
"x":{"field":"col","type":"quantitative","scale":{"domain":[-0.103,5.193],"nice":false,"zero":false},"axis":null},
"y":{"field":"row","type":"ordinal","scale":{"domain":[0,1]},"axis":null},
"text":{"field":"label"}}}
],"spacing":19}
],
"spacing":42
}
